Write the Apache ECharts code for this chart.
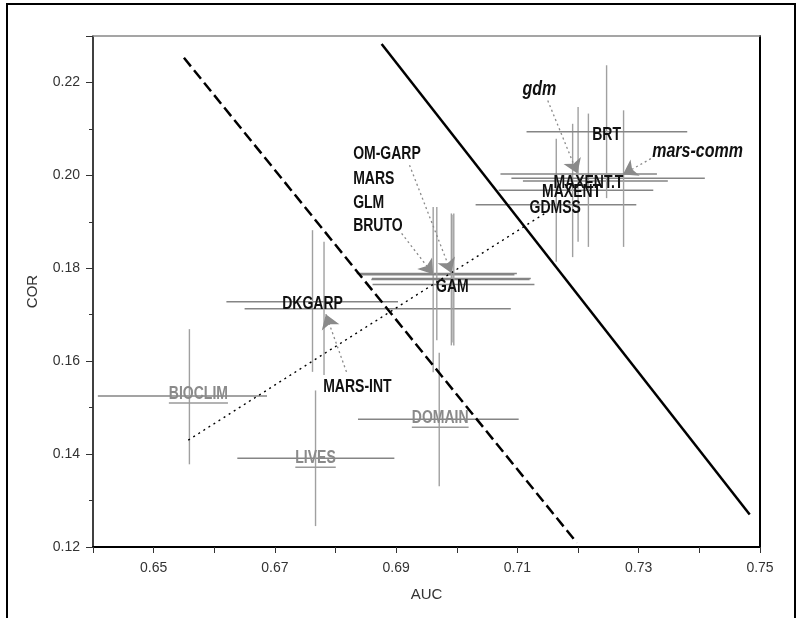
<!DOCTYPE html>
<html><head><meta charset="utf-8">
<script src="https://cdn.jsdelivr.net/npm/echarts@6/dist/echarts.min.js"></script>
<style>html,body{margin:0;padding:0;background:#fff}#c{width:798px;height:618px}</style>
</head><body><div id="c"></div>
<script>
// ---------------- DATA ----------------
const models   = ['BIOCLIM','LIVES','DOMAIN','DKGARP','MARS-INT','BRUTO','GLM','GAM','MARS','OM-GARP','GDMSS','MAXENT','MAXENT.T','gdm','mars-comm','BRT'];
const auc      = [0.6559,0.6767,0.6971,0.6762,0.6781,0.6961,0.6967,0.6991,0.6992,0.6995,0.7164,0.7191,0.7217,0.7200,0.7275,0.7247];
const cor      = [0.1525,0.1391,0.1475,0.1728,0.1713,0.1789,0.1786,0.1776,0.1778,0.1765,0.1937,0.1968,0.1988,0.2003,0.1994,0.2094];
const aucLow   = [0.6408,0.6638,0.6837,0.6620,0.6650,0.6835,0.6840,0.6859,0.6860,0.6861,0.7031,0.7069,0.7109,0.7072,0.7090,0.7115];
const aucHigh  = [0.6687,0.6897,0.7102,0.6903,0.7089,0.7099,0.7095,0.7120,0.7122,0.7128,0.7296,0.7324,0.7348,0.7330,0.7409,0.7380];
const corLow   = [0.1378,0.1245,0.1331,0.1577,0.1570,0.1576,0.1645,0.1634,0.1640,0.1634,0.1814,0.1824,0.1846,0.1857,0.1846,0.1951];
const corHigh  = [0.1669,0.1537,0.1618,0.1882,0.1857,0.1932,0.1932,0.1918,0.1915,0.1918,0.2079,0.2111,0.2133,0.2147,0.2140,0.2237];

// reference lines (AUC, COR end points)
const solidLine  = [[0.6876,0.2283],[0.7483,0.1270]];
const dashedLine = [[0.6550,0.2253],[0.7198,0.1209]];
const dottedLine = [[0.6557,0.1430],[0.7145,0.1918]];

// annotation arrows [from, to] in (AUC, COR)
const arrows = [
  [[0.7150,0.2161],[0.7199,0.2004]],   // gdm
  [[0.7320,0.2036],[0.7274,0.2002]],   // mars-comm
  [[0.6922,0.2022],[0.6991,0.1790]],   // OM-GARP / MARS
  [[0.6909,0.1875],[0.6961,0.1787]],   // GLM / BRUTO
  [[0.6818,0.1577],[0.6784,0.1701]]    // MARS-INT
];

// annotation text anchors (AUC, COR)
const annotations = [
  ['gdm',      0.7136,0.2185],
  ['mars-comm',0.7397,0.2052],
  ['OM-GARP',  0.6829,0.2045],
  ['MARS',     0.6829,0.1991],
  ['GLM',      0.6829,0.1941],
  ['BRUTO',    0.6829,0.1891],
  ['MARS-INT', 0.6836,0.1543]
];
const pointLabels = ['BIOCLIM','LIVES','DOMAIN','DKGARP','GAM','GDMSS','MAXENT','MAXENT.T','BRT'];

const xTicks = [0.65,0.67,0.69,0.71,0.73,0.75];
const yTicks = [0.12,0.14,0.16,0.18,0.20,0.22];

// ---------------- STYLE ----------------
function hasFont(f){const c=document.createElement('canvas').getContext('2d');c.font='40px monospace';const a=c.measureText('MMMiiil0.65').width;c.font='40px "'+f+'", monospace';return c.measureText('MMMiiil0.65').width!==a;}
const narrow = hasFont('Liberation Sans Narrow');
const axisFont = narrow ? '"Liberation Sans Narrow", sans-serif' : '"Liberation Sans", Arial, sans-serif';
const axisSize = narrow ? 16 : 14;
const LBL_FONT = '"Liberation Sans", Arial, sans-serif';
const labelStyle = {
  'BIOCLIM': {dx:9, dy:-2, color:'#8a8a8a', underline:true},
  'LIVES':   {dx:0, dy:0,  color:'#8a8a8a', underline:true},
  'DOMAIN':  {dx:1, dy:-1, color:'#8a8a8a', underline:true},
  'DKGARP':  {dx:0, dy:2},
  'GAM':     {dx:1, dy:8},
  'GDMSS':   {dx:-1,dy:4},
  'MAXENT':  {dx:-1,dy:2},
  'MAXENT.T':{dx:0, dy:2},
  'BRT':     {dx:0, dy:3},
  'gdm':      {italic:true, size:16},
  'mars-comm':{italic:true, size:16},
  'OM-GARP': {align:'left'}, 'MARS':{align:'left'}, 'GLM':{align:'left'}, 'BRUTO':{align:'left'},
  'MARS-INT':{}
};
const measureCtx = document.createElement('canvas').getContext('2d');

const barData = models.map((m,i)=>({name:m, value:[auc[i],cor[i],aucLow[i],aucHigh[i],corLow[i],corHigh[i]]}));
const labelData = pointLabels.map(n=>{const i=models.indexOf(n);return {name:n, value:[auc[i],cor[i]]};})
  .concat(annotations.map(a=>({name:a[0], value:[a[1],a[2]]})));

const chart = echarts.init(document.getElementById('c'), null, {renderer:'canvas'});
chart.setOption({
  animation:false,
  backgroundColor:'#fff',
  grid:{left:93,right:38,top:36,bottom:71,containLabel:false},
  xAxis:[{
    type:'value',min:0.64,max:0.75,interval:0.01,position:'bottom',
    axisLine:{lineStyle:{color:'#000',width:2}},
    axisTick:{length:6,lineStyle:{color:'#333',width:1}},
    splitLine:{show:false},
    axisLabel:{color:'#333',fontSize:axisSize,fontFamily:axisFont,margin:14,
      formatter:v=>{const s=v.toFixed(2);return xTicks.some(t=>Math.abs(t-v)<1e-6)?s:'';}},
    name:'AUC',nameLocation:'middle',nameGap:40,
    nameTextStyle:{color:'#333',fontSize:axisSize+1,fontFamily:axisFont}
  },{
    type:'value',min:0.64,max:0.75,position:'top',
    axisLine:{lineStyle:{color:'#888',width:1.5}},axisTick:{show:false},axisLabel:{show:false},splitLine:{show:false}
  }],
  yAxis:[{
    type:'value',min:0.12,max:0.23,interval:0.02,position:'left',
    axisLine:{lineStyle:{color:'#000',width:1.5}},
    axisTick:{length:7,lineStyle:{color:'#333',width:1}},
    minorTick:{show:true,splitNumber:2,length:4,lineStyle:{color:'#333',width:1}},
    splitLine:{show:false},
    axisLabel:{color:'#333',fontSize:axisSize,fontFamily:axisFont,margin:13,
      formatter:v=>{const s=v.toFixed(2);return yTicks.some(t=>Math.abs(t-v)<1e-6)?s:'';}},
    name:'COR',nameLocation:'middle',nameGap:53,nameRotate:90,
    nameTextStyle:{color:'#333',fontSize:axisSize+1,fontFamily:axisFont}
  },{
    type:'value',min:0.12,max:0.23,position:'right',
    axisLine:{lineStyle:{color:'#000',width:2}},axisTick:{show:false},axisLabel:{show:false},splitLine:{show:false}
  }],
  graphic:[{type:'rect',shape:{x:7,y:4,width:788,height:700},style:{fill:'none',stroke:'#000',lineWidth:2},silent:true}],
  series:[
    {type:'line',data:dashedLine,showSymbol:false,symbol:'none',lineStyle:{color:'#000',width:2.5,type:[11,5]},z:3},
    {type:'line',data:solidLine,showSymbol:false,symbol:'none',lineStyle:{color:'#000',width:2.5},z:3},
    {type:'line',data:dottedLine,showSymbol:false,symbol:'none',lineStyle:{color:'#000',width:1.4,type:[2,4]},z:3},
    {type:'custom',data:barData,clip:false,z:2,
      renderItem:(p,api)=>{
        const x=api.value(0),y=api.value(1);
        const l=api.coord([api.value(2),y]),r=api.coord([api.value(3),y]);
        const lo=api.coord([x,api.value(4)]),hi=api.coord([x,api.value(5)]);
        return {type:'group',children:[
          {type:'line',shape:{x1:l[0],y1:l[1],x2:r[0],y2:r[1]},style:{stroke:'#858585',lineWidth:1.5}},
          {type:'line',shape:{x1:hi[0],y1:hi[1],x2:lo[0],y2:lo[1]},style:{stroke:'#a0a0a0',lineWidth:1.4}}
        ]};
      }},
    {type:'lines',coordinateSystem:'cartesian2d',z:4,
      data:arrows.map(a=>({coords:a})),
      symbol:['none','arrow'],symbolSize:14,
      lineStyle:{color:'#8a8a8a',width:1.3,type:[2,3],opacity:1}},
    {type:'custom',data:labelData,clip:false,z:5,
      renderItem:(p,api)=>{
        const name=labelData[p.dataIndex].name;
        const st=labelStyle[name]||{};
        const c=api.coord([api.value(0),api.value(1)]);
        const size=st.size||14;
        const font=(st.italic?'italic ':'')+'bold '+size+'px '+LBL_FONT;
        const col=st.color||'#111';
        const align=st.align||'center';
        const px=c[0]+(st.dx||0), py=c[1]+(st.dy||0);
        const children=[{type:'text',x:px,y:py,scaleY:1.25,
          style:{text:name,font:font,fill:col,align:align,verticalAlign:'middle'}}];
        if(st.underline){
          measureCtx.font=font;const w=measureCtx.measureText(name).width;
          children.push({type:'line',shape:{x1:px-w/2,y1:py+9,x2:px+w/2,y2:py+9},style:{stroke:'#9a9a9a',lineWidth:1.5}});
        }
        return {type:'group',children};
      }}
  ]
});
</script>
</body></html>
